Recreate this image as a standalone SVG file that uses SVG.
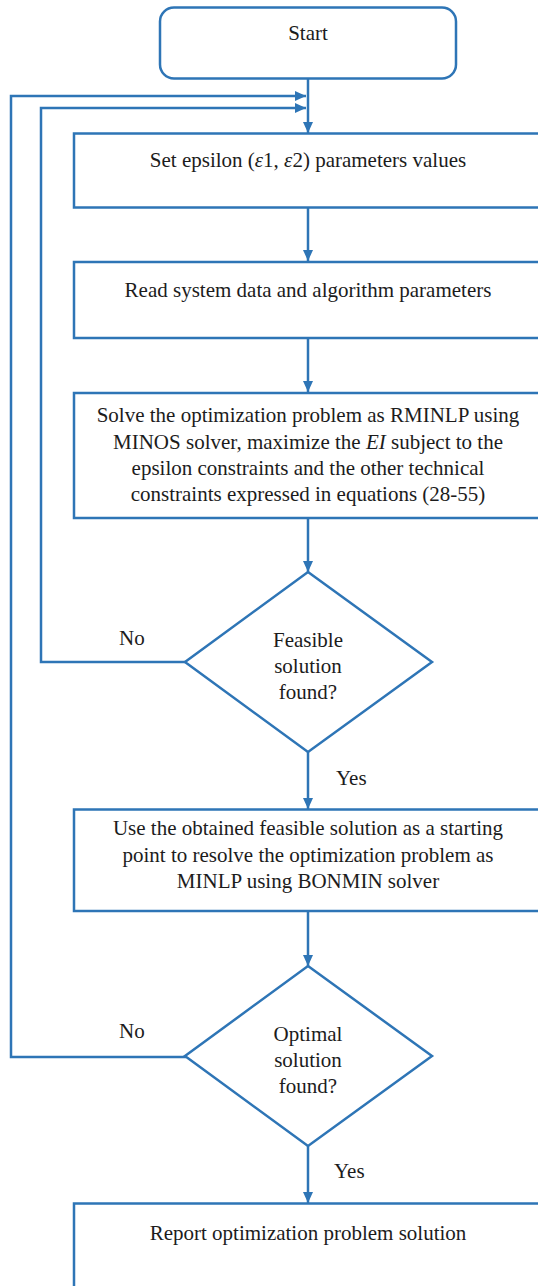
<svg xmlns="http://www.w3.org/2000/svg" width="538" height="1286" viewBox="0 0 538 1286" font-family="'Liberation Serif', 'Times New Roman', Times, serif">
  <style>
    .shape { fill: #ffffff; stroke: #2E75B6; stroke-width: 2.5; }
    .wire { fill: none; stroke: #2E75B6; stroke-width: 2.5; }
    .lbl { font-family: 'Liberation Serif', 'Times New Roman', Times, serif; font-size: 21px; fill: #1c1c1c; }
    .c { text-anchor: middle; }
    .it { font-style: italic; }
  </style>
  <defs>
    <marker id="arrow" markerUnits="userSpaceOnUse" markerWidth="12" markerHeight="11" refX="11" refY="5" orient="auto">
      <path d="M0,0 L11,5 L0,10 Z" fill="#2E75B6"/>
    </marker>
  </defs>

  <rect width="538" height="1286" fill="#ffffff"/>

  <!-- connectors and their branch labels -->
  <g id="connectors">
    <line class="wire" x1="308" y1="78" x2="308" y2="133" marker-end="url(#arrow)"/>
    <polyline class="wire" points="186,1057 11,1057 11,96 306,96" marker-end="url(#arrow)"/>
    <polyline class="wire" points="186,662 41,662 41,108 306,108" marker-end="url(#arrow)"/>
    <line class="wire" x1="308" y1="208" x2="308" y2="261" marker-end="url(#arrow)"/>
    <line class="wire" x1="308" y1="338" x2="308" y2="392" marker-end="url(#arrow)"/>
    <line class="wire" x1="308" y1="518" x2="308" y2="572" marker-end="url(#arrow)"/>
    <line class="wire" x1="308" y1="752" x2="308" y2="809" marker-end="url(#arrow)"/>
    <line class="wire" x1="308" y1="911" x2="308" y2="966" marker-end="url(#arrow)"/>
    <line class="wire" x1="308" y1="1146" x2="308" y2="1203" marker-end="url(#arrow)"/>
    <text class="lbl" x="119" y="645">No</text>
    <text class="lbl" x="336" y="785">Yes</text>
    <text class="lbl" x="119" y="1038">No</text>
    <text class="lbl" x="334" y="1178">Yes</text>
  </g>

  <g id="start">
    <rect class="shape" x="160" y="7.5" width="296" height="71" rx="14"/>
    <text class="lbl c" x="308" y="40">Start</text>
  </g>

  <g id="set-epsilon">
    <rect class="shape" x="74" y="133.5" width="469" height="74"/>
    <text class="lbl c" x="308" y="166.5">Set epsilon (<tspan class="it">ε</tspan>1, <tspan class="it">ε</tspan>2) parameters values</text>
  </g>

  <g id="read-data">
    <rect class="shape" x="74" y="262" width="469" height="76"/>
    <text class="lbl c" x="308" y="297">Read system data and algorithm parameters</text>
  </g>

  <g id="solve-rminlp">
    <rect class="shape" x="74" y="393" width="469" height="125"/>
    <text class="lbl c" x="308" y="422">Solve the optimization problem as RMINLP using</text>
    <text class="lbl c" x="308" y="448.5">MINOS solver, maximize the <tspan class="it">EI</tspan> subject to the</text>
    <text class="lbl c" x="308" y="475">epsilon constraints and the other technical</text>
    <text class="lbl c" x="308" y="501">constraints expressed in equations (28-55)</text>
  </g>

  <g id="feasible-check">
    <polygon class="shape" points="308,572 432,662 308,752 185,662"/>
    <text class="lbl c" x="308" y="647">Feasible</text>
    <text class="lbl c" x="308" y="673">solution</text>
    <text class="lbl c" x="308" y="699">found?</text>
  </g>

  <g id="solve-minlp">
    <rect class="shape" x="74" y="809.5" width="469" height="101.5"/>
    <text class="lbl c" x="308" y="835">Use the obtained feasible solution as a starting</text>
    <text class="lbl c" x="308" y="861.5">point to resolve the optimization problem as</text>
    <text class="lbl c" x="308" y="888">MINLP using BONMIN solver</text>
  </g>

  <g id="optimal-check">
    <polygon class="shape" points="308,966 432,1056 308,1146 185,1056"/>
    <text class="lbl c" x="308" y="1041">Optimal</text>
    <text class="lbl c" x="308" y="1067">solution</text>
    <text class="lbl c" x="308" y="1093">found?</text>
  </g>

  <g id="report">
    <rect class="shape" x="74" y="1203.5" width="469" height="100"/>
    <text class="lbl c" x="308" y="1240">Report optimization problem solution</text>
  </g>
</svg>
